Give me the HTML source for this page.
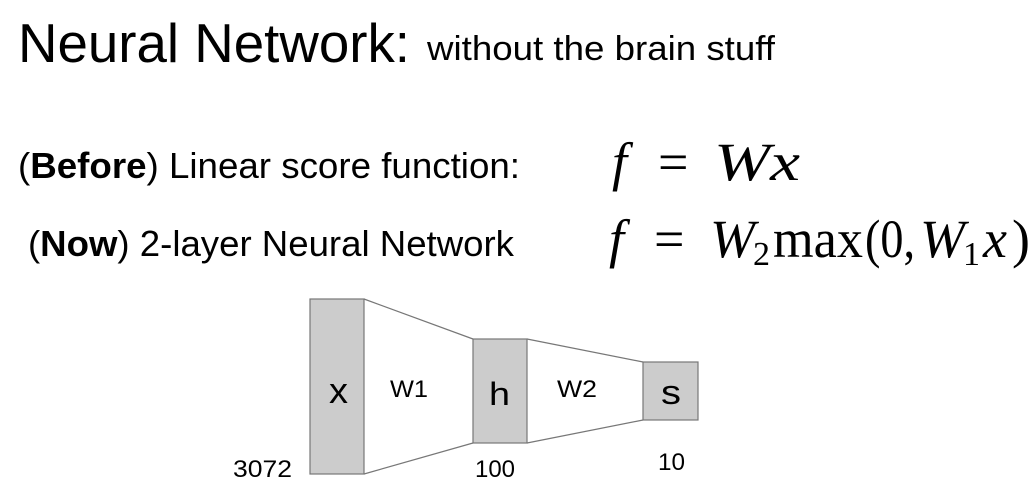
<!DOCTYPE html>
<html><head><style>
body{margin:0;width:1035px;height:502px;background:#fff;overflow:hidden}
</style></head><body>
<svg width="1035" height="502" style="position:absolute;left:0;top:0">
<g font-family="Liberation Sans, sans-serif" fill="#000">
<text x="18" y="62" font-size="55" textLength="392" lengthAdjust="spacingAndGlyphs">Neural Network:</text>
<text x="427" y="60" font-size="34" textLength="348" lengthAdjust="spacingAndGlyphs">without the brain stuff</text>
<text x="18" y="178" font-size="36" textLength="502" lengthAdjust="spacingAndGlyphs">(<tspan font-weight="bold">Before</tspan>) Linear score function:</text>
<text x="28" y="256" font-size="36" textLength="486" lengthAdjust="spacingAndGlyphs">(<tspan font-weight="bold">Now</tspan>) 2-layer Neural Network</text>
</g>
<g font-family="Liberation Serif, serif" fill="#000" font-size="54">
<text x="612" y="180" font-style="italic">f</text>
<text x="658" y="180">=</text>
<text x="714" y="180" font-style="italic" textLength="86" lengthAdjust="spacingAndGlyphs">Wx</text>
<text x="609" y="257" font-style="italic">f</text>
<text x="654" y="257">=</text>
<text x="710" y="257" font-style="italic">W</text>
<text x="753" y="265" font-size="34">2</text>
<text x="773" y="257" textLength="90" lengthAdjust="spacingAndGlyphs">max</text>
<text x="865" y="257" textLength="50" lengthAdjust="spacingAndGlyphs">(0,</text>
<text x="920" y="257" font-style="italic">W</text>
<text x="963" y="265" font-size="34">1</text>
<text x="983" y="257" font-style="italic">x</text>
<text x="1012" y="257">)</text>
</g>
<g stroke="#777" stroke-width="1.2" fill="none">
<line x1="364" y1="299" x2="473" y2="339"/><line x1="364" y1="474" x2="473" y2="443"/>
<line x1="527" y1="339" x2="643" y2="362"/><line x1="527" y1="443" x2="643" y2="420"/>
</g>
<g fill="#ccc" stroke="#777" stroke-width="1.2">
<rect x="310" y="299" width="54" height="175"/>
<rect x="473" y="339" width="54" height="104"/>
<rect x="643" y="362" width="55" height="58"/>
</g>
<g font-family="Liberation Sans, sans-serif" fill="#000">
<text x="329" y="403" font-size="36" textLength="19" lengthAdjust="spacingAndGlyphs">x</text>
<text x="390" y="397" font-size="24" textLength="38" lengthAdjust="spacingAndGlyphs">W1</text>
<text x="489" y="405" font-size="32" textLength="21" lengthAdjust="spacingAndGlyphs">h</text>
<text x="557" y="397" font-size="24" textLength="40" lengthAdjust="spacingAndGlyphs">W2</text>
<text x="661" y="404" font-size="34" textLength="20" lengthAdjust="spacingAndGlyphs">s</text>
<text x="233" y="477" font-size="24" textLength="59" lengthAdjust="spacingAndGlyphs">3072</text>
<text x="475" y="477" font-size="24" textLength="40" lengthAdjust="spacingAndGlyphs">100</text>
<text x="658" y="470" font-size="24" textLength="27" lengthAdjust="spacingAndGlyphs">10</text>
</g>
</svg>
</body></html>
